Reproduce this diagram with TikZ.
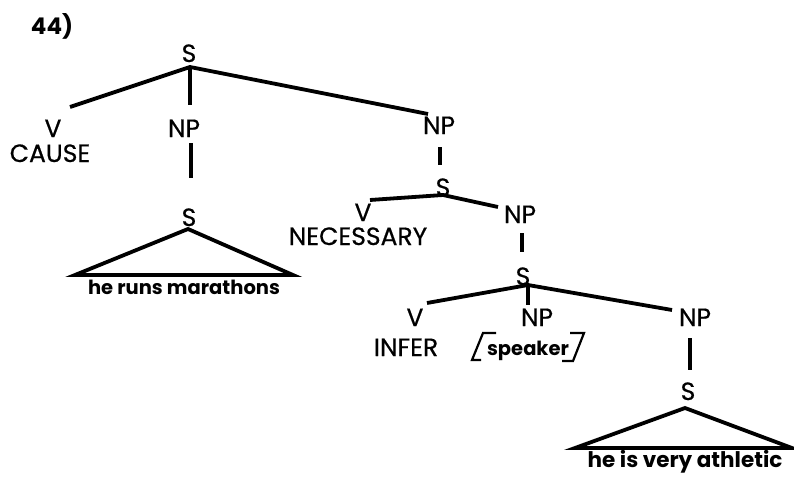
\documentclass[tikz,border=0pt]{standalone}
\usepackage{fontspec}
\setmainfont{Poppins}
\newfontfamily\labfam[FakeBold=0.6]{Poppins}
\tikzset{
  lab/.style={font=\labfam\fontsize{25}{25}\selectfont, inner sep=0pt, anchor=base, text depth=0pt},
  txt/.style={font=\bfseries\fontsize{19.5}{19.5}\selectfont, inner sep=0pt, anchor=base},
  ln/.style={line width=3.8pt},
  br/.style={line width=2.2pt}
}
\begin{document}
\begin{tikzpicture}[x=1pt,y=-1pt]
\useasboundingbox (0,0) rectangle (794,476);
% labels (base line positions)
\node[txt, font=\bfseries\fontsize{23}{23}\selectfont] (num) at (52,35) {44)};
\node[lab] (s1) at (189,62) {S};
\node[lab] (v1) at (53,137) {V};
\node[lab] (cause) at (50,162) {CAUSE};
\node[lab] (np1) at (184,137) {NP};
\node[lab] (s2) at (189,226) {S};
\node[txt] (t1) at (184,294) {he runs marathons};
\node[lab] (np2) at (439,134) {NP};
\node[lab] (s3) at (443,196) {S};
\node[lab] (v2) at (363,221) {V};
\node[lab] (nec) at (358,245) {NECESSARY};
\node[lab] (np3) at (520,223) {NP};
\node[lab] (s4) at (523,285) {S};
\node[lab] (v3) at (415,326) {V};
\node[lab] (infer) at (406,356) {INFER};
\node[lab] (np4) at (537,326) {NP};
\node[txt] (spk) at (528,355) {speaker};
\node[lab] (np5) at (695,326) {NP};
\node[lab] (s5) at (688,400) {S};
\node[txt, font=\bfseries\fontsize{21.5}{21.5}\selectfont] (t2) at (685,467) {he is very athletic};
% connector end points
\coordinate (a1) at (190,67);
\coordinate (v1t) at (70,107);
\coordinate (np1t) at (190,105);
\coordinate (np2t) at (428,114);
\coordinate (np1b) at (191,143);
\coordinate (s2t) at (191,178);
\coordinate (a2) at (188,229);
\coordinate (b2l) at (75,275);
\coordinate (b2r) at (293,275);
\coordinate (np2b) at (440,147);
\coordinate (s3t) at (440,165);
\coordinate (a3) at (443,195);
\coordinate (v2t) at (370,200);
\coordinate (np3t) at (498,207);
\coordinate (np3b) at (522,233);
\coordinate (s4t) at (522,252);
\coordinate (a4) at (528,285);
\coordinate (v3t) at (427,303);
\coordinate (np4t) at (528,305);
\coordinate (np5t) at (672,310);
\coordinate (np5b) at (690,338);
\coordinate (s5t) at (690,370);
\coordinate (a5) at (685,408);
\coordinate (b5l) at (575,448);
\coordinate (b5r) at (792,448);
% connectors
\draw[ln] (v1t) -- (a1) -- (np2t);
\draw[ln] (a1) -- (np1t);
\draw[ln] (np1b) -- (s2t);
\draw[ln, line join=miter] (b2l) -- (a2) -- (b2r) -- cycle;
\draw[ln] (np2b) -- (s3t);
\draw[ln] (v2t) -- (a3) -- (np3t);
\draw[ln] (np3b) -- (s4t);
\draw[ln] (v3t) -- (a4) -- (np5t);
\draw[ln] (a4) -- (np4t);
\draw[ln] (np5b) -- (s5t);
\draw[ln, line join=miter] (b5l) -- (a5) -- (b5r) -- cycle;
% brackets round speaker
\coordinate (lbt) at (496,333);
\coordinate (lbc) at (483,333);
\coordinate (lbb) at (472,360);
\coordinate (lbe) at (481,360);
\coordinate (rbt) at (570,333);
\coordinate (rbc) at (584,333);
\coordinate (rbb) at (573,361);
\coordinate (rbe) at (562,361);
\draw[br] (lbt) -- (lbc) -- (lbb) -- (lbe);
\draw[br] (rbt) -- (rbc) -- (rbb) -- (rbe);
\end{tikzpicture}
\end{document}
